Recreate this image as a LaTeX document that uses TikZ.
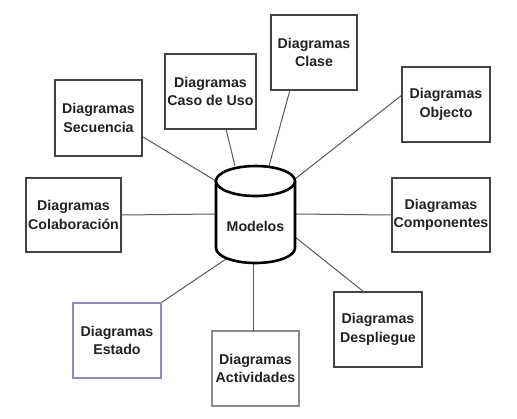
\documentclass[tikz,border=0pt]{standalone}
\usepackage{fontspec}
\setmainfont{Liberation Sans}
\begin{document}
\begin{tikzpicture}[x=1pt,y=-1pt,
  diag/.style={draw=boxgray,line width=1.2pt,fill=white,inner sep=0pt,
    align=center,font=\fontsize{14.2}{18.5}\selectfont\bfseries,text=txt},
  conn/.style={draw=linegray,line width=1pt}]
\definecolor{boxgray}{HTML}{444444}
\definecolor{linegray}{HTML}{5A5A5A}
\definecolor{txt}{HTML}{222222}
\definecolor{estadoblue}{HTML}{8A8AD0}
\definecolor{actgray}{HTML}{8C8C8C}
\useasboundingbox (0,0) rectangle (517,418);
\fill[white] (0,0) rectangle (517,418);
% boxes
\node[diag,minimum width=86pt,minimum height=75pt] (clase) at (314,52.5) {Diagramas\\Clase};
\node[diag,minimum width=91pt,minimum height=75pt] (caso) at (210.5,91.5) {Diagramas\\Caso de Uso};
\node[diag,minimum width=87pt,minimum height=76pt] (secu) at (98.5,118) {Diagramas\\Secuencia};
\node[diag,minimum width=88pt,minimum height=75pt] (obj) at (446,104.5) {Diagramas\\Objecto};
\node[diag,minimum width=95pt,minimum height=74pt] (cola) at (73.5,215) {Diagramas\\Colaboración};
\node[diag,minimum width=98pt,minimum height=74pt] (comp) at (441,215) {Diagramas\\Componentes};
\node[diag,draw=estadoblue,minimum width=88pt,minimum height=75pt] (estado) at (117,340.5) {Diagramas\\Estado};
\node[diag,draw=actgray,minimum width=87pt,minimum height=75pt] (act) at (255.5,368.5) {Diagramas\\Actividades};
\node[diag,minimum width=88pt,minimum height=75pt] (desp) at (378,329.5) {Diagramas\\Despliegue};
% connector end points on the cylinder
\coordinate (eSecu) at (216,181);
\coordinate (eCaso) at (235,166);
\coordinate (eClase) at (269,166);
\coordinate (eObj) at (295,179);
\coordinate (eCola) at (216,214);
\coordinate (eComp) at (295,214);
\coordinate (eEstado) at (229,257);
\coordinate (eAct) at (253,263);
\coordinate (eDesp) at (295,237);
\draw[conn] (143,137) -- (eSecu);
\draw[conn] (226,129) -- (eCaso);
\draw[conn] (290,90) -- (eClase);
\draw[conn] (402,95) -- (eObj);
\draw[conn] (cola.east) -- (eCola);
\draw[conn] (comp.west) -- (eComp);
\draw[conn] (estado.north east) -- (eEstado);
\draw[conn] (253,331) -- (eAct);
\draw[conn] (364,292) -- (eDesp);
% cylinder
\fill[white] (216,181) rectangle (295,248);
\fill[white] (255.5,248) ellipse[x radius=39.5,y radius=15];
\draw[black,line width=2.6pt] (216,181) -- (216,248) arc[start angle=180,end angle=0,x radius=39.5,y radius=15] -- (295,181);
\draw[black,line width=2.6pt,fill=white] (255.5,181) ellipse[x radius=39.5,y radius=15];
\node[font=\fontsize{14.2}{18.5}\selectfont\bfseries,text=txt] (modelos) at (255.5,226) {Modelos};
\end{tikzpicture}
\end{document}
